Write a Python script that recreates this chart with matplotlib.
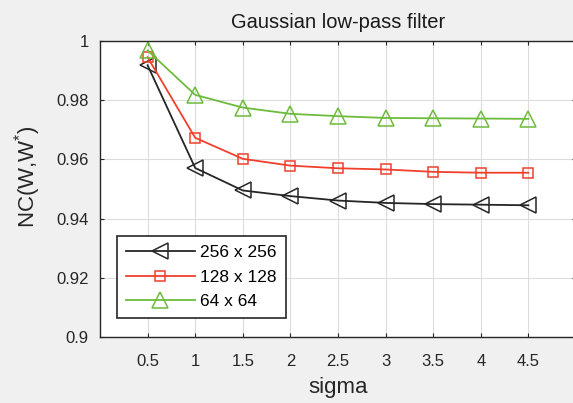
import matplotlib
matplotlib.use("Agg")
import matplotlib.pyplot as plt

plt.rcParams["font.family"] = ["Liberation Sans", "DejaVu Sans"]
plt.rcParams["mathtext.fontset"] = "custom"
plt.rcParams["mathtext.rm"] = "Liberation Sans"

# sigma values on the x axis
sigma = [0.5, 1, 1.5, 2, 2.5, 3, 3.5, 4, 4.5]

# NC values per watermark size
nc_256 = [0.9918, 0.9571, 0.9495, 0.9476, 0.9461, 0.9453, 0.9449, 0.9447, 0.9445]
nc_128 = [0.9945, 0.9673, 0.9602, 0.9579, 0.9570, 0.9566, 0.9558, 0.9555, 0.9555]
nc_64 = [0.9968, 0.9818, 0.9775, 0.9754, 0.9746, 0.9740, 0.9739, 0.9738, 0.9737]

labels = ["256 x 256", "128 x 128", "64 x 64"]
xticks = [0.5, 1, 1.5, 2, 2.5, 3, 3.5, 4, 4.5]
yticks = [0.9, 0.92, 0.94, 0.96, 0.98, 1.0]
ytick_labels = ["0.9", "0.92", "0.94", "0.96", "0.98", "1"]

fig = plt.figure(figsize=(5.73, 4.03), dpi=100, facecolor="#f0f0f0")
ax = fig.add_axes([100 / 573, 1 - 337 / 403, 476 / 573, 296 / 403])
ax.set_facecolor("white")

ax.plot(sigma, nc_256, color="#262626", marker="<", markersize=11, markerfacecolor="none",
        markeredgewidth=1.1, linewidth=1.3, label=labels[0])
ax.plot(sigma, nc_128, color="#f0402c", marker="s", markersize=7.5, markerfacecolor="none",
        markeredgewidth=1.1, linewidth=1.3, label=labels[1])
ax.plot(sigma, nc_64, color="#6dbb3c", marker="^", markersize=11, markerfacecolor="none",
        markeredgewidth=1.1, linewidth=1.3, label=labels[2])

ax.set_xlim(0, 5)
ax.set_ylim(0.9, 1.0)
ax.set_xticks(xticks)
ax.set_xticklabels([f"{v:g}" for v in xticks])
ax.set_yticks(yticks)
ax.set_yticklabels(ytick_labels)

ax.grid(True, color="#dcdcdc", linewidth=0.8)
ax.set_axisbelow(True)
for s in ax.spines.values():
    s.set_color("#262626")
    s.set_linewidth(1.0)
ax.tick_params(direction="in", top=True, right=True, length=3, labelsize=12,
               colors="#262626")
ax.tick_params(axis="y", pad=8)
ax.tick_params(axis="x", pad=12)

ax.set_title("Gaussian low-pass filter", fontsize=14.5, color="#1a1a1a", pad=9)
ax.set_xlabel("sigma", fontsize=16, color="#262626", labelpad=6)
ax.set_ylabel(r"NC(W,W$^{*}$)", fontsize=16, color="#262626")
ax.yaxis.set_label_coords(-0.12, 0.54)

leg = ax.legend(loc="lower left", bbox_to_anchor=(17 / 476, 19 / 296), fontsize=12.5,
                fancybox=False, edgecolor="#262626", framealpha=1, borderaxespad=0,
                handlelength=4.0, borderpad=0.5, labelspacing=0.55, handletextpad=0.3)
leg.get_frame().set_linewidth(1.2)

fig.savefig("out.png", dpi=100, facecolor=fig.get_facecolor())
